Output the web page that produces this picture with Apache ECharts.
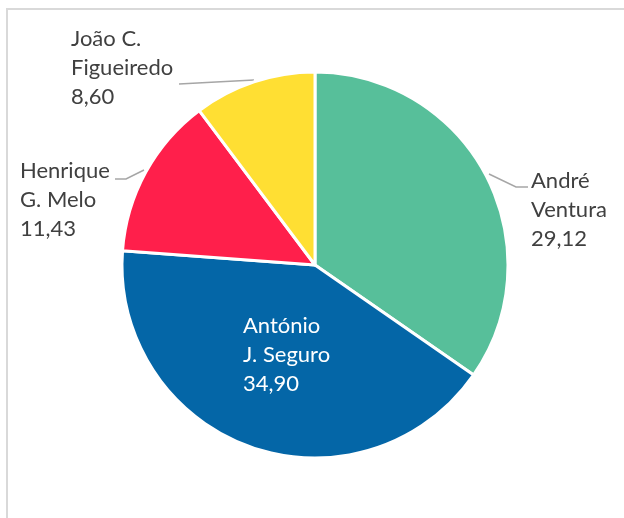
<!DOCTYPE html>
<html>
<head>
<meta charset="utf-8">
<script src="https://cdn.jsdelivr.net/npm/echarts@6/dist/echarts.min.js"></script>
<style>
  html, body { margin: 0; padding: 0; background: #fff; }
  #frame { position: absolute; left: 6px; top: 8px; width: 700px; height: 600px; border: 2px solid #d9d9d9; box-sizing: border-box; }
  #main { position: absolute; left: 0; top: 0; width: 624px; height: 518px; }
</style>
</head>
<body>
<div id="frame"></div>
<div id="main"></div>
<script>
// candidatos e percentagens (ordem: do topo, sentido horario)
var names = ['André\nVentura', 'António\nJ. Seguro', 'Henrique\nG. Melo', 'João C.\nFigueiredo'];
var values = [29.12, 34.90, 11.43, 8.60];
var colors = ['#57bf9a', '#0466a7', '#ff1f4b', '#ffdf33'];

// onde fica cada rotulo (canto superior esquerdo) e as linhas de chamada
var labelPos = [[531, 166], [243, 311], [20, 156], [71, 24]];
var leaderPts = [
    [[489, 174], [516, 187], [528, 187]],
    null,
    [[144, 170], [126, 179], [115, 179]],
    [[254, 80], [216, 82], [179, 84]]
];

var myChart = echarts.init(document.getElementById('main'));

var data = [];
for (var i = 0; i < names.length; i++) {
    var item = {
        name: names[i],
        value: values[i],
        itemStyle: { color: colors[i] }
    };
    if (i == 1) {
        item.label = { color: '#ffffff' };
        item.labelLine = { show: false };
    }
    data.push(item);
}

myChart.setOption({
    animation: false,
    series: [
        {
            type: 'pie',
            center: [315, 265],
            radius: [0, 193],
            startAngle: 90,
            clockwise: true,
            data: data,
            itemStyle: {
                borderColor: '#ffffff',
                borderWidth: 3
            },
            label: {
                show: true,
                position: 'outside',
                fontFamily: 'Lato',
                fontSize: 22,
                lineHeight: 29,
                color: '#404040',
                formatter: function (p) {
                    return p.name + '\n' + p.value.toFixed(2).replace('.', ',');
                }
            },
            labelLine: {
                show: true,
                length: 10,
                length2: 10,
                lineStyle: { color: '#a6a6a6', width: 1.5 }
            },
            labelLayout: function (params) {
                var pos = labelPos[params.dataIndex];
                var res = {
                    x: pos[0],
                    y: pos[1],
                    align: 'left',
                    verticalAlign: 'top'
                };
                if (leaderPts[params.dataIndex]) {
                    res.labelLinePoints = leaderPts[params.dataIndex];
                }
                return res;
            }
        }
    ]
});
</script>
</body>
</html>
